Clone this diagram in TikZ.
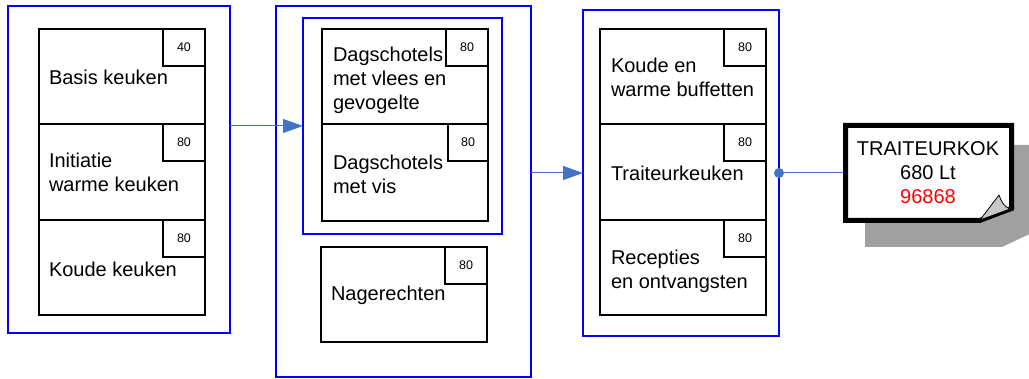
\documentclass[tikz,border=0pt]{standalone}
\usepackage{fontspec}
\setmainfont{Liberation Sans}
\usetikzlibrary{arrows.meta,calc}
\definecolor{frameblue}{RGB}{0,0,255}
\definecolor{arrowblue}{RGB}{68,114,196}
\definecolor{shadowgray}{RGB}{160,160,160}
\definecolor{foldgray}{RGB}{200,200,200}
\newcommand{\stackL}[1]{\begin{tabular}[t]{@{}l@{}}#1\end{tabular}}
\newcommand{\stackC}[1]{\begin{tabular}[t]{@{}c@{}}#1\end{tabular}}
\begin{document}
\begin{tikzpicture}[x=1pt,y=-1pt,
  frame/.style={draw=frameblue,line width=2pt,anchor=north west,inner sep=0,outer sep=0},
  kbox/.style={draw=black,line width=2pt,anchor=north west,minimum width=166pt,inner sep=0,outer sep=0},
  numbox/.style={draw=black,line width=1.5pt,anchor=north east,minimum width=42pt,minimum height=37pt,inner sep=0,outer sep=0,font=\fontsize{12.5}{14}\selectfont},
  lbl/.style={anchor=base west,inner sep=0,outer sep=0,font=\fontsize{20}{24}\selectfont},
  arr/.style={draw=arrowblue,line width=1pt,-{Triangle[length=20pt,width=14pt]}},
  conn/.style={draw=arrowblue,line width=1pt}]
\clip (0,0) rectangle (1029,379);

% frames
\node[frame,minimum width=222pt,minimum height=327pt] (g1) at (8,6) {};
\node[frame,minimum width=255pt,minimum height=371pt] (g2) at (276,6) {};
\node[frame,minimum width=199pt,minimum height=216pt] (g2in) at (303,18) {};
\node[frame,minimum width=196pt,minimum height=326pt] (g3) at (583,10) {};

% left group
\node[kbox,minimum height=95pt] (b1) at (39,29) {};
\node[kbox,minimum height=96pt] (b2) at (39,124) {};
\node[kbox,minimum height=95pt] (b3) at (39,220) {};
\node[numbox] (n1) at (b1.north east) {40};
\node[numbox] (n2) at (b2.north east) {80};
\node[numbox] (n3) at (b3.north east) {80};
\node[lbl] (t1) at (49,85) {Basis keuken};
\node[lbl] (t2) at (49,168) {\stackL{Initiatie\\warme keuken}};
\node[lbl] (t3) at (49,277) {Koude keuken};

% middle group
\node[kbox,minimum height=95pt] (m1) at (322,29) {};
\node[kbox,minimum height=97pt] (m2) at (322,124) {};
\node[kbox,minimum height=95pt] (m3) at (321,247) {};
\node[numbox] (p1) at (m1.north east) {80};
\node[numbox,minimum width=40pt] (p2) at (m2.north east) {80};
\node[numbox] (p3) at (m3.north east) {80};
\node[lbl] (u1) at (333,62) {\stackL{Dagschotels\\met vlees en\\gevogelte}};
\node[lbl] (u2) at (333,170) {\stackL{Dagschotels\\met vis}};
\node[lbl] (u3) at (331,301) {Nagerechten};

% right group
\node[kbox,minimum height=95pt] (r1) at (600,29) {};
\node[kbox,minimum height=96pt] (r2) at (600,124) {};
\node[kbox,minimum height=95pt] (r3) at (600,220) {};
\node[numbox] (q1) at (r1.north east) {80};
\node[numbox] (q2) at (r2.north east) {80};
\node[numbox] (q3) at (r3.north east) {80};
\node[lbl] (v1) at (611,73) {\stackL{Koude en\\warme buffetten}};
\node[lbl] (v2) at (611,181) {Traiteurkeuken};
\node[lbl] (v3) at (611,265) {\stackL{Recepties\\en ontvangsten}};

% note
\node[minimum width=171pt,minimum height=100pt,anchor=north west,inner sep=0,outer sep=0] (note) at (843,123) {};
\fill[shadowgray] (865,145) -- (1036,145) -- (1036,231) -- (1002,247) -- (865,247) -- cycle;
\draw[line width=5pt,fill=white,line join=miter] (845.5,125.5) -- (1011.5,125.5) -- (1011.5,208.5) -- (979.5,220.5) -- (845.5,220.5) -- cycle;
\draw[line width=0.8pt,fill=foldgray,line join=round] (980,220) -- (999,195) .. controls (1001,201) and (1004,207) .. (1010,209) -- cycle;
\node[anchor=base,inner sep=0,outer sep=0,font=\fontsize{20}{24}\selectfont] (notetext) at (928,156) {\stackC{TRAITEURKOK\\680 Lt\\\textcolor{red}{96868}}};

% connectors
\coordinate (a1) at (230,126);
\draw[arr] (a1) -- (a1 -| g2in.west);
\draw[arr] (g2.east |- g3.west) -- (g3.west);
\draw[conn] (g3.east) -- (note.west);
\fill[arrowblue] (g3.east) circle (5pt);
\end{tikzpicture}
\end{document}
